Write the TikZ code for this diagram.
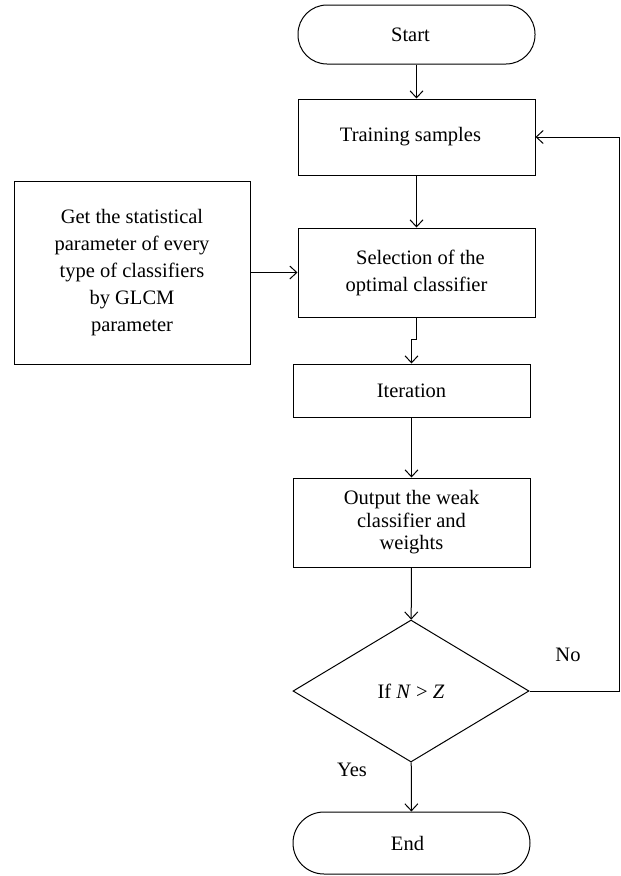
\documentclass[tikz,border=0pt]{standalone}
\usepackage{fontspec}
\setmainfont{Liberation Serif}
\usetikzlibrary{arrows.meta,shapes.geometric}
\begin{document}
\begin{tikzpicture}[x=1pt,y=-1pt,
  every node/.style={font=\fontsize{20.5}{27}\selectfont, text=black},
  procbox/.style={draw=black, line width=1pt, rectangle, align=center, inner sep=0pt, minimum width=237pt},
  termbox/.style={draw=black, line width=1pt, rectangle, rounded corners=29pt, align=center, inner sep=0pt, minimum width=237pt},
  decbox/.style={draw=black, line width=1pt, diamond, align=center, inner sep=0pt, minimum width=236pt, minimum height=142pt},
  flow/.style={draw=black, line width=1pt, -{Straight Barb[length=7pt,width=13pt]}},
  plainlbl/.style={inner sep=0pt}
]
\useasboundingbox (0,0) rectangle (621,876);

\node[termbox, minimum height=59pt] (start) at (416.5,34.5) {Start\hspace*{12pt}};
\node[procbox, minimum height=76pt] (train) at (416.5,137) {Training samples\hspace*{12pt}};
\node[procbox, minimum height=89pt] (sel) at (416.5,272.5) {\hspace*{8pt}Selection of the\\optimal classifier};
\node[procbox, minimum width=236pt, minimum height=183pt] (left) at (132,272.5) {Get the statistical\\parameter of every\\type of classifiers\\by GLCM\\parameter};
\node[procbox, minimum height=53pt] (iter) at (411.5,390.5) {Iteration};
\node[procbox, minimum height=89pt, font=\fontsize{20.5}{22.5}\selectfont] (out) at (411.5,522.5) {Output the weak\\classifier and\\weights};
\node[decbox] (dia) at (411,691) {If \textit{N} > \textit{Z}};
\node[termbox, rounded corners=31pt, minimum height=62pt] (end) at (411.5,843) {End\hspace*{8pt}};

\node[plainlbl] (nolbl) at (568,655) {No};
\node[plainlbl] (yeslbl) at (352,770) {Yes};

\draw[flow] (start) -- (train);
\draw[flow] (train) -- (sel);
\draw[flow] (left) -- (sel);
\draw[flow] (sel.south) -- ++(0,22) -| (iter.north);
\draw[flow] (iter) -- (out);
\draw[flow] (out) -- (dia);
\draw[flow] (dia) -- (end);
\draw[flow] (dia.east) -- ++(90,0) |- (train.east);
\end{tikzpicture}
\end{document}
